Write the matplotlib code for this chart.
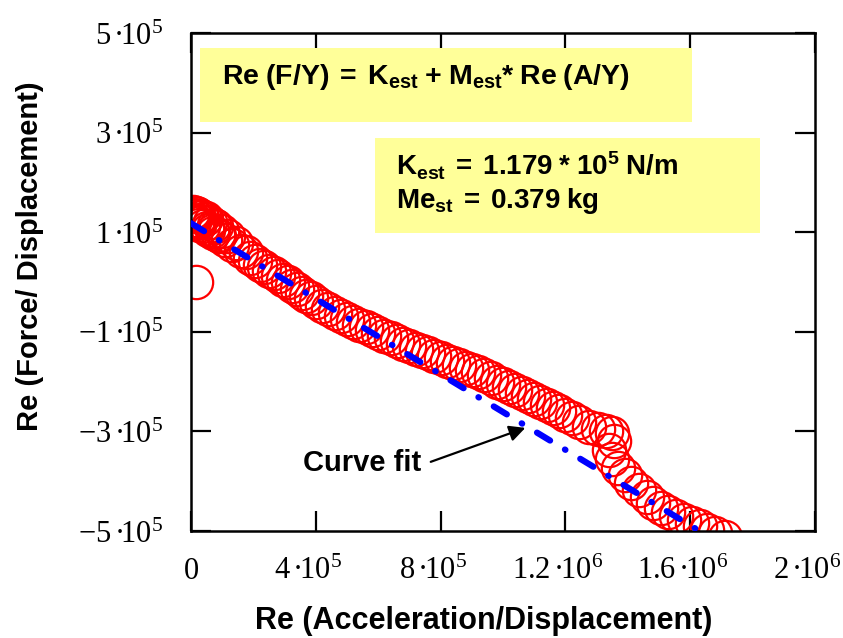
import numpy as np
import matplotlib.pyplot as plt
from matplotlib.patches import Rectangle
from matplotlib.transforms import ScaledTranslation

plt.rcParams['mathtext.fontset'] = 'custom'
plt.rcParams['mathtext.rm'] = 'Liberation Serif'
plt.rcParams['mathtext.it'] = 'Liberation Serif:italic'
plt.rcParams['mathtext.bf'] = 'Liberation Sans:bold'
plt.rcParams['lines.scale_dashes'] = False

# -------------------------------------------------
# Datos (x en 1e5, y en 1e5)
# -------------------------------------------------
acc_re = np.array([
    0.03, 0.05, 0.08, 0.10, 0.12, 0.15, 0.18, 0.22, 0.25, 0.28,
    0.32, 0.35, 0.40, 0.44, 0.48, 0.52, 0.55, 0.62, 0.66, 0.70,
    0.75, 0.80, 0.85, 0.90, 1.00, 1.10, 1.20, 1.30, 1.45, 1.60,
    1.75, 1.90, 2.05, 2.20, 2.35, 2.50, 2.65, 2.80, 2.95, 3.10,
    3.25, 3.40, 3.55, 3.70, 3.85, 4.00, 4.20, 4.40, 4.60, 4.80,
    5.00, 5.20, 5.40, 5.60, 5.80, 6.00, 6.20, 6.40, 6.60, 6.80,
    7.00, 7.20, 7.40, 7.60, 7.80, 8.00, 8.20, 8.40, 8.60, 8.80,
    9.00, 9.20, 9.40, 9.60, 9.80, 10.00, 10.20, 10.40, 10.60, 10.80,
    11.00, 11.20, 11.40, 11.60, 11.80, 12.00, 12.20, 12.45, 12.75, 13.05,
    13.30, 13.50, 13.55, 13.40, 13.50, 13.70, 13.90, 14.10, 14.35, 14.60,
    14.80, 15.05, 15.30, 15.55, 15.80, 16.05, 16.30, 16.55, 16.80, 17.10,
    0.16,
]) * 1e5

force_re = np.array([
    1.32, 1.40, 1.25, 1.20, 1.33, 1.38, 1.18, 1.37, 1.15, 1.22,
    1.33, 1.30, 1.12, 1.26, 1.28, 1.08, 1.05, 1.20, 1.02, 0.98,
    1.14, 1.12, 0.95, 0.92, 1.02, 0.85, 0.92, 0.74, 0.78, 0.62,
    0.60, 0.48, 0.42, 0.34, 0.30, 0.22, 0.18, 0.12, 0.05, 0.00,
    -0.08, -0.14, -0.22, -0.28, -0.33, -0.40, -0.48, -0.54, -0.62, -0.68,
    -0.75, -0.80, -0.86, -0.91, -0.97, -1.02, -1.08, -1.13, -1.19, -1.24,
    -1.29, -1.34, -1.38, -1.43, -1.48, -1.53, -1.58, -1.63, -1.67, -1.72,
    -1.76, -1.80, -1.86, -1.93, -2.00, -2.05, -2.10, -2.16, -2.22, -2.28,
    -2.35, -2.41, -2.47, -2.53, -2.60, -2.67, -2.74, -2.82, -2.91, -2.96,
    -2.99, -3.03, -3.19, -3.38, -3.55, -3.73, -3.88, -4.04, -4.18, -4.32,
    -4.44, -4.54, -4.62, -4.70, -4.78, -4.84, -4.90, -4.98, -5.05, -5.12,
    0.00,
]) * 1e5

# Recta del ajuste (extremos leidos)
fit_x = [0.0, 1.63e6]
fit_y = [1.18e5, -5.0e5]

x_ticks = [0, 4e5, 8e5, 1.2e6, 1.6e6, 2e6]
x_tick_labels = ['$0$', '$4\\,\u00b7\\!10^{5}$', '$8\\,\u00b7\\!10^{5}$',
                 '$1.2\\,\u00b7\\!10^{6}$', '$1.6\\,\u00b7\\!10^{6}$', '$2\\,\u00b7\\!10^{6}$']
y_ticks = [5e5, 3e5, 1e5, -1e5, -3e5, -5e5]
y_tick_labels = ['$5\\,\u00b7\\!10^{5}$', '$3\\,\u00b7\\!10^{5}$', '$1\\,\u00b7\\!10^{5}$',
                 '$-1\\,\u00b7\\!10^{5}$', '$-3\\,\u00b7\\!10^{5}$', '$-5\\,\u00b7\\!10^{5}$']

# -------------------------------------------------
# Figura
# -------------------------------------------------
W, H = 843, 638
fig = plt.figure(figsize=(W / 100, H / 100), dpi=100)
ax = fig.add_axes([191 / W, 1 - 531 / H, 624 / W, 498 / H])

ax.plot(acc_re, force_re, 'o', mfc='none', mec='red', mew=1.6, ms=24, zorder=2)
ax.plot(fit_x, fit_y, color='blue', lw=4.5, dashes=(11, 12.5, 0.4, 12.5),
        dash_capstyle='round', solid_capstyle='round', zorder=3)

ax.set_xlim(0, 2e6)
ax.set_ylim(-5e5, 5e5)
ax.set_xticks(x_ticks)
ax.set_xticklabels(x_tick_labels)
ax.set_yticks(y_ticks)
ax.set_yticklabels(y_tick_labels)
ax.tick_params(direction='in', length=14.4, width=1.6, top=True, right=True,
               labelsize=22, pad=18)
ax.tick_params(axis='y', pad=20)
for s in ax.spines.values():
    s.set_linewidth(1.8)

# Las etiquetas del eje x quedan algo a la izquierda del tick
shift = ScaledTranslation(-8 / 100, 0, fig.dpi_scale_trans)
for lbl in ax.get_xticklabels()[1:]:
    lbl.set_transform(lbl.get_transform() + shift)

# Etiquetas de ejes
fig.text(484 / W, 1 - 621 / H, 'Re (Acceleration/Displacement)', ha='center', va='center',
         fontsize=22, fontweight='bold', family='Liberation Sans')
fig.text(30 / W, 1 - 256 / H, 'Re (Force/ Displacement)', ha='center', va='center',
         rotation=90, fontsize=21, fontweight='bold', family='Liberation Sans')

# Cuadros amarillos
fig.patches.append(Rectangle((200 / W, 1 - 122 / H), 492 / W, 74 / H, transform=fig.transFigure,
                             facecolor='#ffff99', edgecolor='none', zorder=5))
fig.patches.append(Rectangle((375 / W, 1 - 233 / H), 385 / W, 95 / H, transform=fig.transFigure,
                             facecolor='#ffff99', edgecolor='none', zorder=5))

fig.text(222 / W, 1 - 77 / H,
         r'$\mathbf{Re\ (F/Y)\ {=}\ K_{est}\ {+}\ M_{est}{*}\ Re\ (A/Y)}$',
         ha='left', va='center', fontsize=20.5, zorder=6)
fig.text(396 / W, 1 - 166 / H, r'$\mathbf{K_{est}\ {=}\ 1.179\ {*}\ 10^{5}\ N/m}$',
         ha='left', va='center', fontsize=20, zorder=6)
fig.text(396 / W, 1 - 201 / H, r'$\mathbf{Me_{st}\ {=}\ 0.379\ kg}$',
         ha='left', va='center', fontsize=20, zorder=6)

# Flecha "Curve fit"
ax.annotate('', xy=(1.08e6, -2.91e5), xytext=(7.6e5, -3.63e5),
            arrowprops=dict(arrowstyle='-|>', color='black', lw=1.6, mutation_scale=24))
ax.text(3.59e5, -3.64e5, 'Curve fit', ha='left', va='center', fontsize=21,
        fontweight='bold', family='Liberation Sans')

fig.savefig('out.png', dpi=100)
